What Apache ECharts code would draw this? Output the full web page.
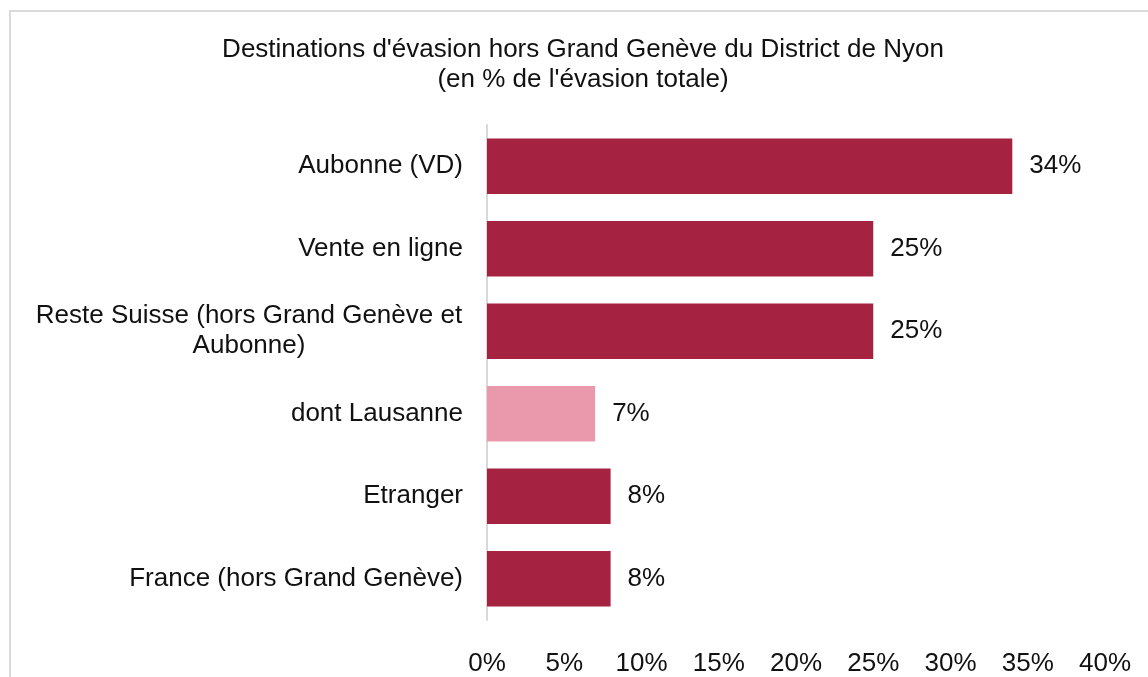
<!DOCTYPE html>
<html>
<head>
<meta charset="utf-8">
<script src="https://cdn.jsdelivr.net/npm/echarts@6/dist/echarts.min.js"></script>
<style>
	html, body { margin: 0; padding: 0; background: #fff; }
	#frame {
		position: absolute; left: 9px; top: 10px; width: 1139px; height: 667px;
		border-top: 2px solid #dadada; border-left: 2px solid #dadada;
	}
	#main { position: absolute; left: 0; top: 0; width: 1148px; height: 677px; }
</style>
</head>
<body>
<div id="frame"></div>
<div id="main"></div>
<script>
// destinations (de haut en bas)
var categories = ['Aubonne (VD)', 'Vente en ligne', 'Reste Suisse (hors Grand Genève et Aubonne)',
	'dont Lausanne', 'Etranger', 'France (hors Grand Genève)'];
var values = [34, 25, 25, 7, 8, 8];
var highlight = [false, false, false, true, false, false]; // barre claire = sous-total
var xTicks = [0, 5, 10, 15, 20, 25, 30, 35, 40];

var DARK = '#A52341';
var LIGHT = '#EA99AC';
var FONT = '"Liberation Sans", Arial, sans-serif';
var FS = 26;

var myChart = echarts.init(document.getElementById('main'));

var barData = [];
for (var i = 0; i < values.length; i++) {
	barData.push({
		value : values[i],
		itemStyle : { color : highlight[i] ? LIGHT : DARK }
	});
}

var option = {
	textStyle : { fontFamily : FONT },
	title : {
		text : "Destinations d'évasion hors Grand Genève du District de Nyon\n(en % de l'évasion totale)",
		left : 578,
		top : 30,
		textAlign : 'center',
		textStyle : {
			fontFamily : FONT,
			fontSize : FS,
			fontWeight : 'normal',
			color : '#111',
			lineHeight : 30
		}
	},
	grid : {
		left : 487,
		right : 43,
		top : 125,
		bottom : 57
	},
	xAxis : {
		type : 'value',
		min : xTicks[0],
		max : xTicks[xTicks.length - 1],
		interval : 5,
		axisLine : { show : false },
		axisTick : { show : false },
		splitLine : { show : false },
		axisLabel : {
			margin : 31,
			fontSize : FS,
			color : '#111',
			fontFamily : FONT,
			formatter : function(v) { return v + '%'; }
		}
	},
	yAxis : {
		type : 'category',
		inverse : true,
		data : categories,
		axisLine : { show : true, lineStyle : { color : '#d9d9d9', width : 2 } },
		axisTick : { show : false },
		axisLabel : {
			margin : 24,
			fontSize : FS,
			color : '#111',
			fontFamily : FONT,
			lineHeight : 30,
			formatter : function(v) {
				if (v.indexOf('Reste Suisse') === 0) {
					return '{c|Reste Suisse (hors Grand Genève et}\n{c|Aubonne)}';
				}
				return v;
			},
			rich : {
				c : {
					width : 428,
					align : 'center',
					fontSize : FS,
					lineHeight : 30,
					color : '#111',
					fontFamily : FONT
				}
			}
		}
	},
	series : [{
		type : 'bar',
		data : barData,
		barCategoryGap : '33%',
		label : {
			show : true,
			position : 'right',
			distance : 17,
			fontSize : FS,
			color : '#111',
			fontFamily : FONT,
			formatter : '{c}%'
		}
	}],
	animation : false
};

myChart.setOption(option);
</script>
</body>
</html>
